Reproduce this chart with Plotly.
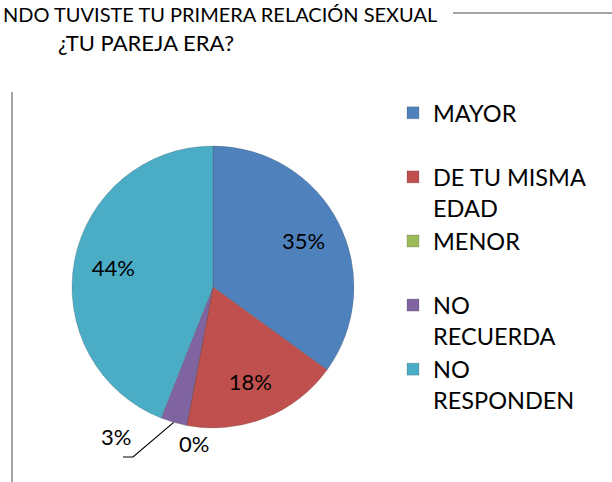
import math
import plotly.graph_objects as go

# ---- data ----
categories = ["MAYOR", "DE TU MISMA EDAD", "MENOR", "NO RECUERDA", "NO RESPONDEN"]
legend_labels = ["MAYOR<br> ", "DE TU MISMA<br>EDAD", "MENOR<br> ", "NO<br>RECUERDA", "NO<br>RESPONDEN"]
values = [35, 18, 0, 3, 44]
colors = ["#4F81BD", "#C0504D", "#9BBB59", "#8064A2", "#4BACC6"]
title_line1 = "NDO TUVISTE TU PRIMERA RELACIÓN SEXUAL"
title_line2 = "¿TU PAREJA ERA?"

W, H = 612, 482
FONT = "Lato"
FS = 22
TITLE1_FS = 20.0
LEGEND_FONT = "Lato"
LEGEND_FS = 23.5

def px(x):
    return x / W

def py(y):
    return 1 - y / H

# pie geometry (pixels)
cx, cy, r = 213, 287, 141
dom = dict(x=[px(cx - r), px(cx + r)], y=[py(cy + r), py(cy - r)])

total = sum(values)
textpos = ["inside" if v / total >= 0.1 else "none" for v in values]

# base pie: the coloured slices + legend
base = go.Pie(
    labels=legend_labels,
    values=values,
    sort=False,
    direction="clockwise",
    rotation=0,
    marker=dict(colors=colors, line=dict(color="rgba(60,60,60,0.35)", width=0.6)),
    textinfo="none",
    domain=dom,
    showlegend=True,
    hoverinfo="label+percent",
)
# overlay ring (transparent) only to carry the percentage labels outward
labels_ring = go.Pie(
    labels=legend_labels,
    values=values,
    sort=False,
    direction="clockwise",
    rotation=0,
    hole=0.44,
    marker=dict(colors=["rgba(0,0,0,0)"] * len(values), line=dict(width=0)),
    texttemplate="%{percent:.0%}",
    textposition=textpos,
    insidetextorientation="horizontal",
    textfont=dict(family=FONT, size=FS, color="#000000"),
    domain=dom,
    showlegend=False,
    hoverinfo="skip",
)
fig = go.Figure([base, labels_ring])

annotations = []
annotations.append(dict(x=px(1), y=py(14), xref="paper", yref="paper", xanchor="left",
                        yanchor="middle", text=title_line1, showarrow=False,
                        font=dict(family=FONT, size=TITLE1_FS, color="#000000")))
annotations.append(dict(x=px(146), y=py(42), xref="paper", yref="paper", xanchor="center",
                        yanchor="middle", text=title_line2, showarrow=False,
                        font=dict(family=FONT, size=FS, color="#000000")))

# small-slice labels with leader line
cum = 0
mids = []
for v in values:
    mids.append((cum + v / 2) / total * 2 * math.pi)
    cum += v
i3 = 3
ex = cx + r * math.sin(mids[i3])
ey = cy - r * math.cos(mids[i3])
annotations.append(dict(x=px(99), y=py(452), xref="paper", yref="paper", text=f"{values[i3]}%",
                        showarrow=False, font=dict(family=FONT, size=FS, color="#000000")))
annotations.append(dict(x=px(177), y=py(459), xref="paper", yref="paper", text=f"{values[2]}%",
                        showarrow=False, font=dict(family=FONT, size=FS, color="#000000")))

shapes = [
    dict(type="path", xref="paper", yref="paper",
         path=f"M {px(123)} {py(457)} L {px(133)} {py(457)} L {px(ex)} {py(ey)}",
         line=dict(color="#000000", width=1.2)),
    dict(type="line", xref="paper", yref="paper", x0=px(453), x1=1, y0=py(13), y1=py(13),
         line=dict(color="#878787", width=1.5)),
    dict(type="line", xref="paper", yref="paper", x0=px(12), x1=px(12), y0=py(92), y1=0,
         line=dict(color="#878787", width=1.5)),
]

fig.update_layout(
    width=W, height=H,
    margin=dict(l=0, r=0, t=0, b=0),
    paper_bgcolor="#FFFFFF",
    plot_bgcolor="#FFFFFF",
    showlegend=True,
    legend=dict(x=px(393), y=py(91), xanchor="left", yanchor="top",
                font=dict(family=LEGEND_FONT, size=LEGEND_FS, color="#000000"),
                valign="top", traceorder="normal", tracegroupgap=0,
                bgcolor="rgba(0,0,0,0)"),
    annotations=annotations,
    shapes=shapes,
)

fig.write_html("out.html", config={"displayModeBar": False},
               post_script="document.body.style.margin='0';document.documentElement.style.overflow='hidden';")
